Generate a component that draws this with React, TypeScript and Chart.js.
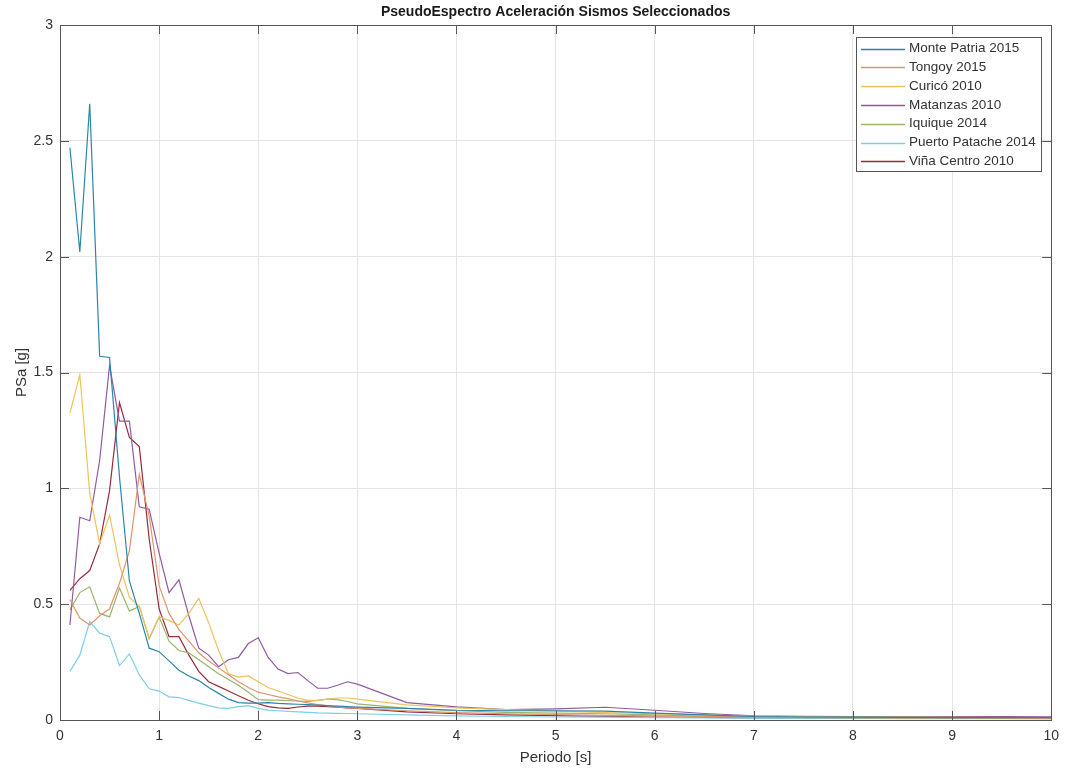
import React, { useEffect, useRef } from "react";
import { Chart, registerables } from "chart.js";

Chart.register(...registerables);

const periods = [
  0.1, 0.2, 0.3, 0.4, 0.5, 0.6, 0.7, 0.8, 0.9, 1.0,
  1.1, 1.2, 1.3, 1.4, 1.5, 1.6, 1.7, 1.8, 1.9, 2.0,
  2.1, 2.2, 2.3, 2.4, 2.5, 2.6, 2.7, 2.8, 2.9, 3.0,
  3.5, 4, 4.5, 5, 5.5, 6, 6.5, 7, 7.5, 8, 8.5, 9, 9.5, 10,
];

const montePatria = [
  2.47, 2.02, 2.66, 1.57, 1.565, 1.05, 0.6, 0.46, 0.31, 0.295,
  0.255, 0.215, 0.19, 0.17, 0.14, 0.115, 0.09, 0.075, 0.073, 0.073,
  0.075, 0.072, 0.07, 0.068, 0.066, 0.064, 0.062, 0.06, 0.058, 0.056,
  0.05, 0.042, 0.04, 0.04, 0.038, 0.03, 0.022, 0.015, 0.013, 0.012, 0.011, 0.01, 0.01, 0.01,
];
const tongoy = [
  0.52, 0.44, 0.41, 0.45, 0.48, 0.59, 0.73, 1.06, 0.88, 0.58,
  0.46, 0.39, 0.34, 0.29, 0.255, 0.225, 0.195, 0.165, 0.14, 0.12,
  0.11, 0.1, 0.092, 0.082, 0.074, 0.067, 0.061, 0.056, 0.052, 0.05,
  0.04, 0.032, 0.027, 0.023, 0.02, 0.018, 0.015, 0.012, 0.011, 0.01, 0.01, 0.009, 0.009, 0.008,
];
const curico = [
  1.325, 1.49, 0.98, 0.76, 0.885, 0.67, 0.53, 0.49, 0.355, 0.445,
  0.43, 0.41, 0.46, 0.525, 0.42, 0.3, 0.2, 0.185, 0.19, 0.165,
  0.14, 0.125, 0.11, 0.095, 0.085, 0.085, 0.09, 0.095, 0.095, 0.09,
  0.065, 0.052, 0.045, 0.038, 0.032, 0.027, 0.022, 0.016, 0.014, 0.013, 0.012, 0.011, 0.01, 0.01,
];
const matanzas = [
  0.41, 0.875, 0.86, 1.12, 1.53, 1.29, 1.29, 0.92, 0.91, 0.72,
  0.55, 0.605, 0.45, 0.31, 0.28, 0.23, 0.26, 0.27, 0.33, 0.355,
  0.27, 0.22, 0.2, 0.205, 0.17, 0.137, 0.137, 0.15, 0.165, 0.155,
  0.075, 0.057, 0.045, 0.048, 0.055, 0.042, 0.028, 0.018, 0.016, 0.015, 0.015, 0.015, 0.015, 0.014,
];
const iquique = [
  0.475, 0.55, 0.575, 0.46, 0.445, 0.57, 0.47, 0.49, 0.35, 0.445,
  0.34, 0.3, 0.29, 0.26, 0.23, 0.2, 0.175, 0.15, 0.12, 0.088,
  0.086, 0.086, 0.084, 0.082, 0.08, 0.085, 0.09, 0.088, 0.08, 0.07,
  0.05, 0.04, 0.033, 0.03, 0.027, 0.022, 0.017, 0.012, 0.01, 0.009, 0.008, 0.008, 0.007, 0.007,
];
const puertoPatache = [
  0.21, 0.28, 0.425, 0.375, 0.36, 0.235, 0.285, 0.195, 0.135, 0.125,
  0.1, 0.097, 0.085, 0.073, 0.062, 0.052, 0.05, 0.058, 0.062, 0.05,
  0.043, 0.04, 0.037, 0.035, 0.033, 0.031, 0.03, 0.029, 0.028, 0.027,
  0.022, 0.018, 0.015, 0.013, 0.012, 0.01, 0.009, 0.008, 0.007, 0.007, 0.006, 0.006, 0.006, 0.005,
];
const vinaCentro = [
  0.56, 0.61, 0.645, 0.76, 0.99, 1.37, 1.22, 1.18, 0.78, 0.48,
  0.36, 0.36, 0.28, 0.21, 0.165, 0.145, 0.125, 0.105, 0.085, 0.07,
  0.058, 0.052, 0.05, 0.056, 0.06, 0.06, 0.058, 0.055, 0.052, 0.05,
  0.035, 0.027, 0.022, 0.019, 0.016, 0.013, 0.011, 0.009, 0.008, 0.008, 0.008, 0.007, 0.007, 0.007,
];

const seriesNames = [
  "Monte Patria 2015",
  "Tongoy 2015",
  "Curicó 2010",
  "Matanzas 2010",
  "Iquique 2014",
  "Puerto Patache 2014",
  "Viña Centro 2010",
];
const seriesValues = [montePatria, tongoy, curico, matanzas, iquique, puertoPatache, vinaCentro];
const seriesColors = ["#2a85a8", "#e0946c", "#eec25c", "#905aa0", "#9bb56a", "#7ccfe9", "#952c3c"];

const xTicks = [0, 1, 2, 3, 4, 5, 6, 7, 8, 9, 10];
const yTicks = [0, 0.5, 1, 1.5, 2, 2.5, 3];

const titleText = "PseudoEspectro Aceleración Sismos Seleccionados";
const xLabel = "Periodo [s]";
const yLabel = "PSa [g]";

const FONT = "'Liberation Sans', Arial, Helvetica, sans-serif";
const TEXT = "#333333";
const AXIS = "#555555";

const decorPlugin = {
  id: "matlabDecor",
  afterDraw(chart: any) {
    const { ctx, chartArea } = chart;
    const { left, right, top, bottom } = chartArea;
    const xs = chart.scales.x;
    const ys = chart.scales.y;
    ctx.save();
    ctx.strokeStyle = AXIS;
    ctx.lineWidth = 1;
    ctx.strokeRect(Math.round(left) + 0.5, Math.round(top) + 0.5, Math.round(right - left), Math.round(bottom - top));
    const tl = 9;
    ctx.beginPath();
    xTicks.forEach((t) => {
      const px = Math.round(xs.getPixelForValue(t)) + 0.5;
      ctx.moveTo(px, bottom);
      ctx.lineTo(px, bottom - tl);
      ctx.moveTo(px, top);
      ctx.lineTo(px, top + tl);
    });
    yTicks.forEach((t) => {
      const py = Math.round(ys.getPixelForValue(t)) + 0.5;
      ctx.moveTo(left, py);
      ctx.lineTo(left + tl, py);
      ctx.moveTo(right, py);
      ctx.lineTo(right - tl, py);
    });
    ctx.stroke();

    ctx.fillStyle = "#1a1a1a";
    ctx.font = `bold 14px ${FONT}`;
    ctx.textAlign = "center";
    ctx.textBaseline = "middle";
    ctx.fillText(titleText, (left + right) / 2, 12);

    ctx.fillStyle = TEXT;
    ctx.font = `15px ${FONT}`;
    ctx.fillText(xLabel, (left + right) / 2, 758);
    ctx.save();
    ctx.translate(22, (top + bottom) / 2);
    ctx.rotate(-Math.PI / 2);
    ctx.fillText(yLabel, 0, 0);
    ctx.restore();

    const lx = 856, ly = 37, lw = 185, lh = 134;
    ctx.fillStyle = "#ffffff";
    ctx.fillRect(lx, ly, lw, lh);
    ctx.strokeStyle = "#555555";
    ctx.lineWidth = 1;
    ctx.strokeRect(lx + 0.5, ly + 0.5, lw, lh);
    ctx.font = `13.5px ${FONT}`;
    ctx.textAlign = "left";
    ctx.textBaseline = "middle";
    seriesNames.forEach((name, i) => {
      const yy = 48.5 + i * 18.8;
      ctx.strokeStyle = seriesColors[i];
      ctx.lineWidth = 1.5;
      ctx.beginPath();
      ctx.moveTo(861, Math.round(yy) + 0.5);
      ctx.lineTo(905, Math.round(yy) + 0.5);
      ctx.stroke();
      ctx.fillStyle = TEXT;
      ctx.fillText(name, 909, yy);
    });
    ctx.restore();
  },
};

export default function App() {
  const canvasRef = useRef<HTMLCanvasElement | null>(null);

  useEffect(() => {
    if (!canvasRef.current) return;
    const datasets = seriesNames.map((name, i) => ({
      label: name,
      data: periods.map((p, j) => ({ x: p, y: seriesValues[i][j] })),
      borderColor: seriesColors[i],
      backgroundColor: seriesColors[i],
      borderWidth: 1.2,
      pointRadius: 0,
      tension: 0,
      fill: false,
    }));
    const chart = new Chart(canvasRef.current, {
      type: "line",
      data: { datasets },
      options: {
        animation: false,
        responsive: false,
        maintainAspectRatio: false,
        layout: { padding: { top: 25, right: 14, left: 0, bottom: 0 } },
        plugins: {
          legend: { display: false },
          title: { display: false },
          tooltip: { enabled: false },
        },
        scales: {
          x: {
            type: "linear",
            min: 0,
            max: 10,
            afterBuildTicks: (scale: any) => {
              scale.ticks = xTicks.map((v) => ({ value: v }));
            },
            afterFit: (scale: any) => {
              scale.height = 53;
            },
            ticks: {
              color: TEXT,
              font: { family: FONT, size: 14 },
              padding: 8,
              maxRotation: 0,
              autoSkip: false,
              callback: (v: any) => String(v),
            },
            grid: { color: "#e4e4e4", drawTicks: false, lineWidth: 1 },
            border: { display: false },
          },
          y: {
            type: "linear",
            min: 0,
            max: 3,
            afterBuildTicks: (scale: any) => {
              scale.ticks = yTicks.map((v) => ({ value: v }));
            },
            afterFit: (scale: any) => {
              scale.width = 60;
            },
            ticks: {
              color: TEXT,
              font: { family: FONT, size: 14 },
              padding: 7,
              autoSkip: false,
              callback: (v: any) => String(v),
            },
            grid: { color: "#e4e4e4", drawTicks: false, lineWidth: 1 },
            border: { display: false },
          },
        },
      },
      plugins: [decorPlugin],
    });
    return () => chart.destroy();
  }, []);

  return (
    <div style={{ position: "absolute", left: 0, top: 0, width: 1067, height: 773, background: "#fff" }}>
      <canvas ref={canvasRef} width={1067} height={773} style={{ display: "block" }} />
    </div>
  );
}
